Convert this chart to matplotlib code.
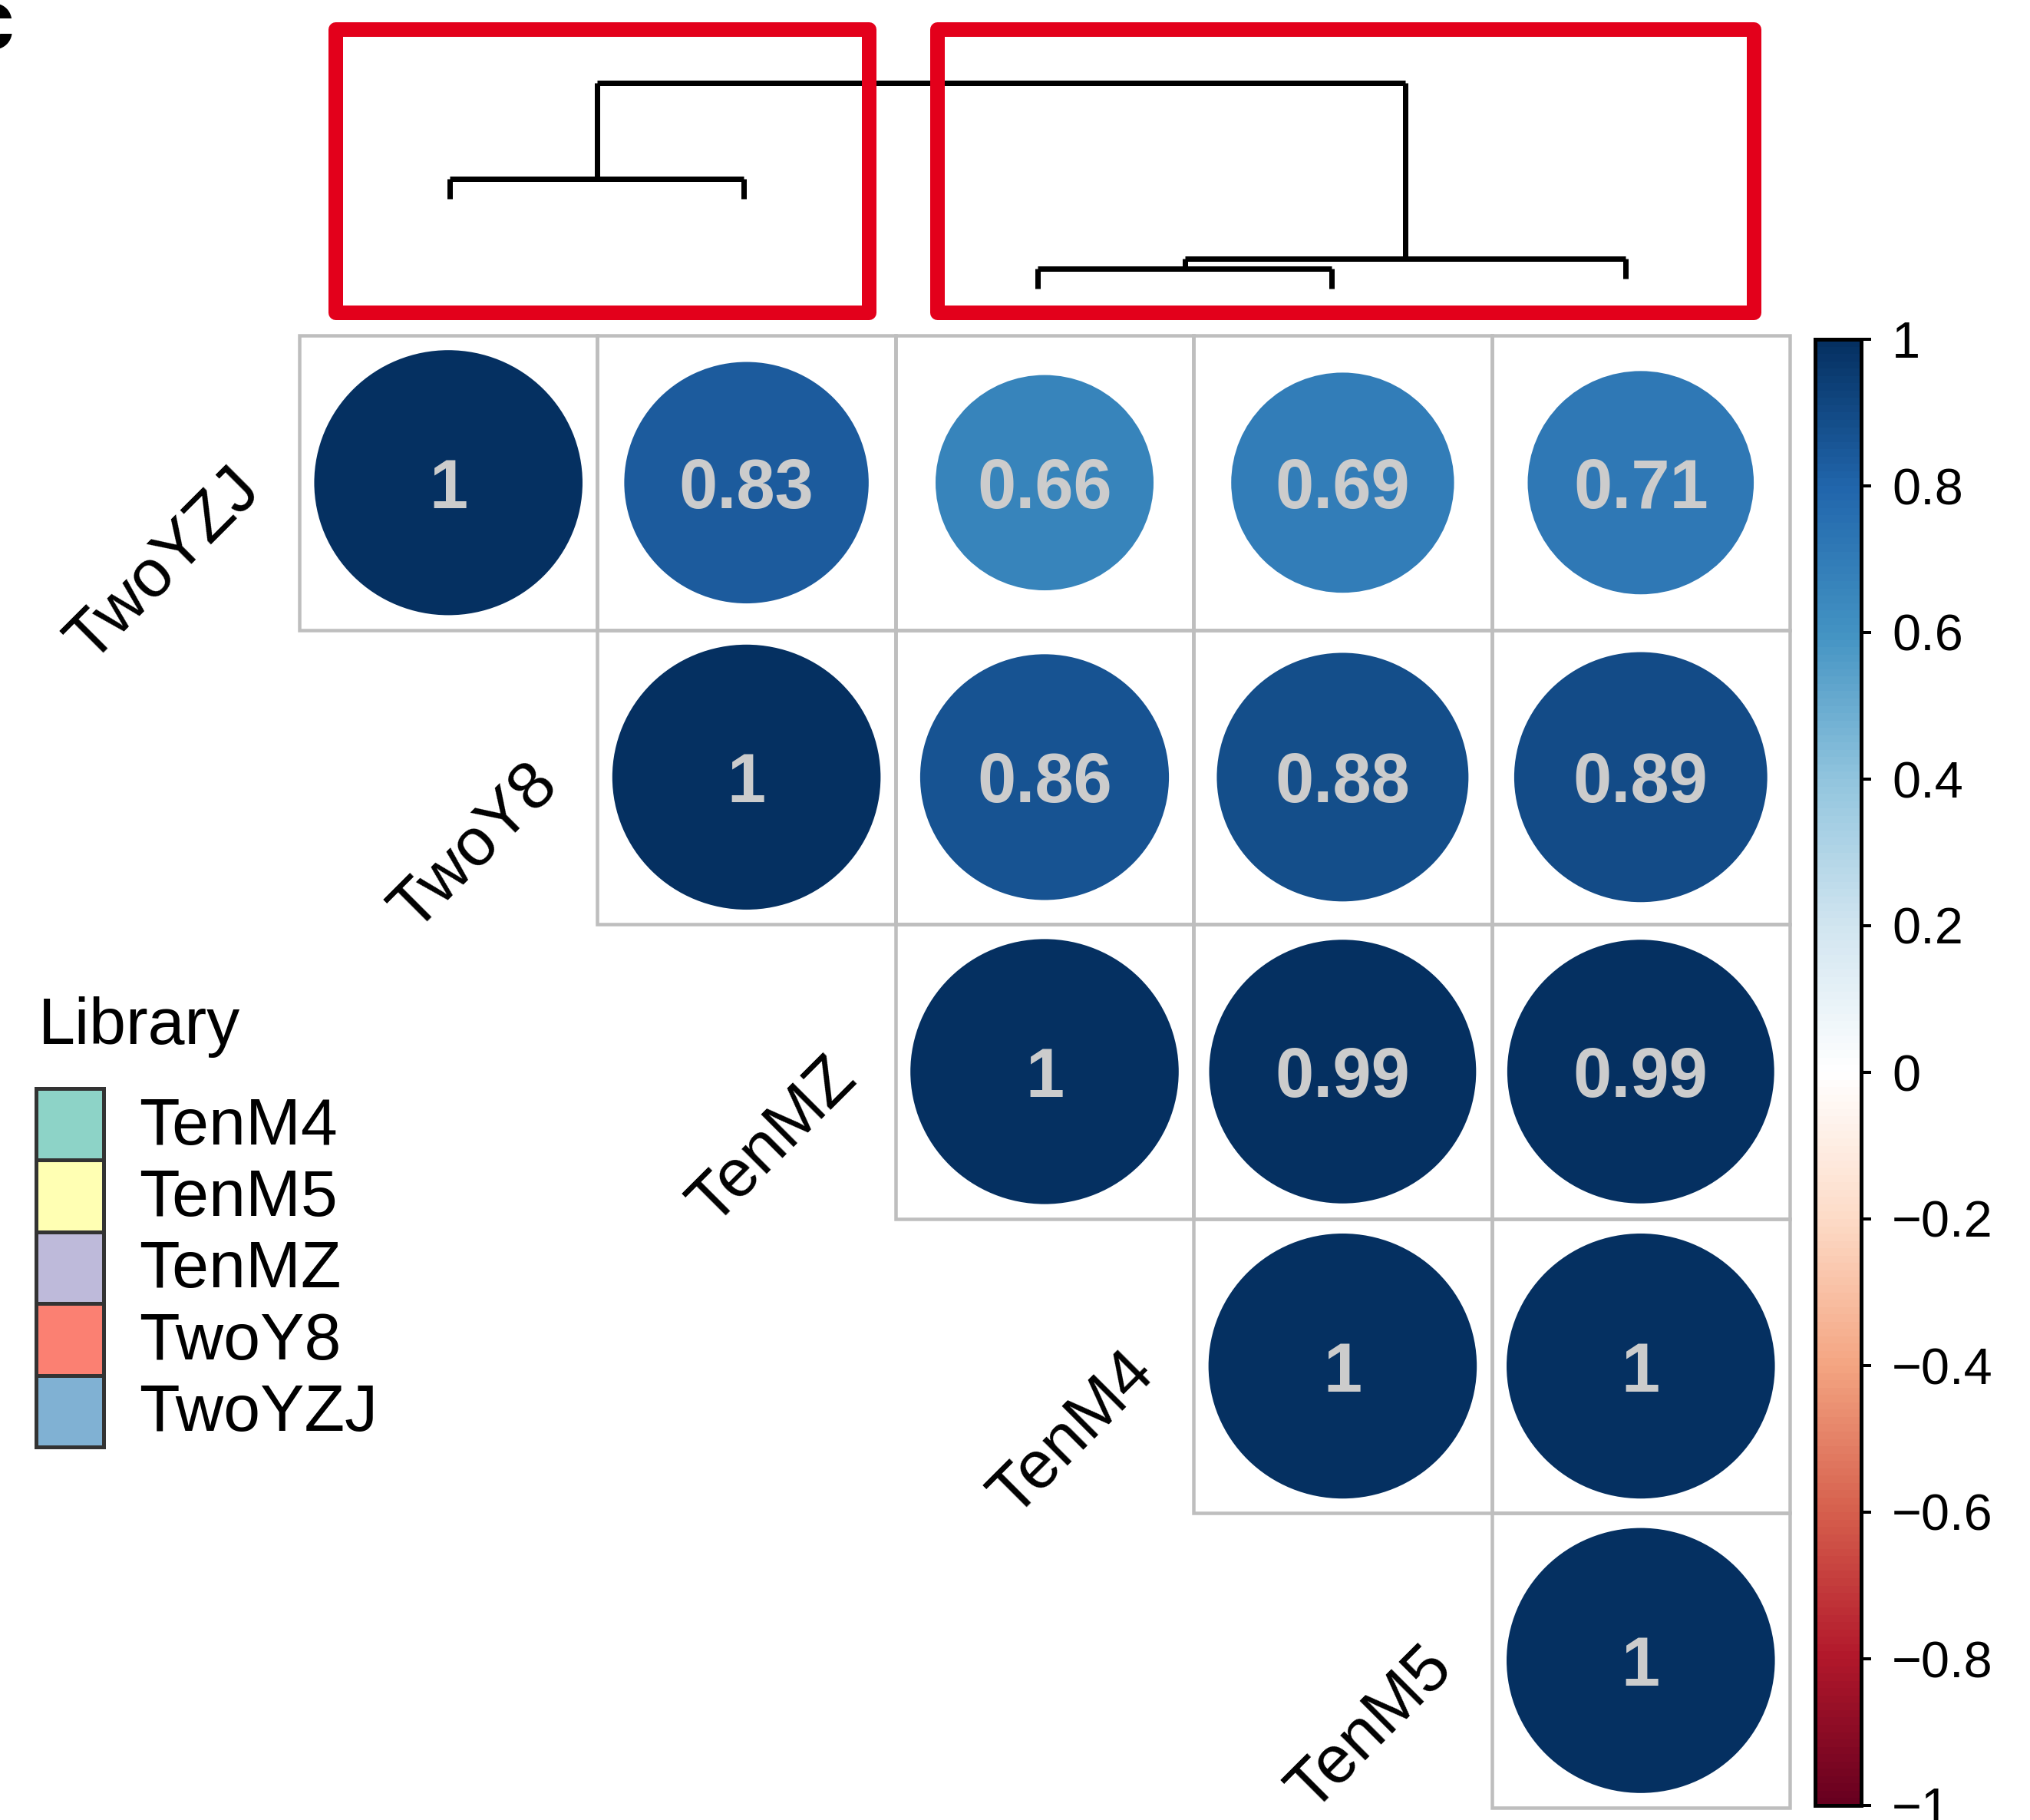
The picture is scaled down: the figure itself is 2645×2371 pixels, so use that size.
import numpy as np
import matplotlib
matplotlib.use("Agg")
import matplotlib.pyplot as plt
from matplotlib.colors import LinearSegmentedColormap, Normalize
from matplotlib.patches import Rectangle, Ellipse
import matplotlib.cm as cm

plt.rcParams['font.family'] = ['Liberation Sans', 'DejaVu Sans']

# ---- data ---------------------------------------------------------------
libraries = ['TwoYZJ', 'TwoY8', 'TenMZ', 'TenM4', 'TenM5']

# upper triangle of the Pearson correlation matrix (row-wise, None below diagonal)
corr_upper = [
    [1.00, 0.83, 0.66, 0.69, 0.71],
    [None, 1.00, 0.86, 0.88, 0.89],
    [None, None, 1.00, 0.99, 0.99],
    [None, None, None, 1.00, 1.00],
    [None, None, None, None, 1.00],
]

# hierarchical clustering of the libraries (scipy-style linkage rows:
# child a, child b, merge height); leaves 0..4 follow `libraries`
linkage = [
    [2, 3, 0.142],
    [5, 4, 0.188],
    [0, 1, 0.557],
    [7, 6, 1.000],
]
leaf_hang = 0.092

# cluster groups highlighted above the dendrogram (leaf index ranges)
highlight_groups = [(0, 1), (2, 4)]

legend_labels = ['TenM4', 'TenM5', 'TenMZ', 'TwoY8', 'TwoYZJ']
legend_colors = ['#8DD3C7', '#FFFFB3', '#BEBADA', '#FB8072', '#80B1D3']

cbar_ticks = [1, 0.8, 0.6, 0.4, 0.2, 0, -0.2, -0.4, -0.6, -0.8, -1]

rdbu = ["#67001F", "#B2182B", "#D6604D", "#F4A582", "#FDDBC7", "#FFFFFF",
        "#D1E5F0", "#92C5DE", "#4393C3", "#2166AC", "#053061"]
cmap = LinearSegmentedColormap.from_list('corr_rdbu', rdbu, N=200)
norm = Normalize(-1, 1)

# ---- figure -------------------------------------------------------------
W, H = 2645, 2371
DPI = 100
fig = plt.figure(figsize=(W / DPI, H / DPI), dpi=DPI)
PX = 72.0 / DPI  # points per pixel


def fig_rect(x0, y0, w, h):
    """Pixel box (top-left origin) -> figure fraction rect."""
    return [x0 / W, 1 - (y0 + h) / H, w / W, h / H]


# overlay in pixel units for panel letter and legend
ov = fig.add_axes([0, 0, 1, 1], zorder=0)
ov.set_xlim(0, W)
ov.set_ylim(H, 0)
ov.axis('off')

# ---- correlation grid ---------------------------------------------------
n = len(libraries)
ax = fig.add_axes(fig_rect(390, 437, 1942, 1918), zorder=2)
ax.set_xlim(0, n)
ax.set_ylim(n, 0)
ax.axis('off')

grid_col = '#BEBEBE'
for i in range(n):
    for j in range(n):
        v = corr_upper[i][j]
        if v is None:
            continue
        ax.add_patch(Rectangle((j, i), 1, 1, facecolor='none',
                               edgecolor=grid_col, lw=4.5 * PX, zorder=1,
                               clip_on=False))
        d = 0.9 * np.sqrt(abs(v))
        ax.add_patch(Ellipse((j + 0.5, i + 0.5), d, d,
                             facecolor=cmap(norm(v)), edgecolor='none',
                             zorder=2))
        txt = f"{v:.2f}".rstrip('0').rstrip('.')
        ax.text(j + 0.5, i + 0.5, txt, ha='center', va='center_baseline',
                fontsize=65, fontweight='bold', color='#CCCCCC', zorder=3)

# diagonal labels
for i, lab in enumerate(libraries):
    ax.text(i - 0.166, i + 0.5 - 0.009, lab, rotation=45,
            rotation_mode='anchor', ha='right', va='center',
            fontsize=63, color='black', clip_on=False)

# ---- dendrogram ---------------------------------------------------------
dax = fig.add_axes(fig_rect(394.5, 0, 1915, 437), zorder=1)
dax.set_xlim(-0.5, n - 0.5)
dax.set_ylim(-0.1667, 1.383)
dax.axis('off')

node_x = {k: float(k) for k in range(n)}
node_h = {}
dend_kw = dict(color='black', lw=7 * PX, solid_capstyle='butt',
               solid_joinstyle='miter')
for m, (a, b, h) in enumerate(linkage):
    a, b = int(a), int(b)
    nid = n + m
    node_x[nid] = (node_x[a] + node_x[b]) / 2
    node_h[nid] = h
    dax.plot([node_x[a], node_x[b]], [h, h], **dend_kw)
    for c in (a, b):
        bottom = node_h[c] if c in node_h else h - leaf_hang
        dax.plot([node_x[c], node_x[c]], [h, bottom], **dend_kw)

# highlight boxes around the two main clusters
box_top, box_bottom = 1.248, -0.060
box_pad = [(0.389, 0.426), (0.342, 0.436)]
for (lo, hi), (pl, pr) in zip(highlight_groups, box_pad):
    x0 = lo - pl
    x1 = hi + pr
    dax.add_patch(Rectangle((x0, box_bottom), x1 - x0, box_top - box_bottom,
                            facecolor='none', edgecolor='#E3001B',
                            lw=19 * PX, joinstyle='round', clip_on=False,
                            zorder=3))

# ---- colour bar ---------------------------------------------------------
cax = fig.add_axes(fig_rect(2365, 442, 60, 1910), zorder=2)
sm = cm.ScalarMappable(norm=norm, cmap=cmap)
cb = fig.colorbar(sm, cax=cax, orientation='vertical')
cb.outline.set_linewidth(5 * PX)
cb.outline.set_edgecolor('black')
cb.set_ticks(cbar_ticks)
cb.set_ticklabels([("\u2212" if t < 0 else "") + f"{abs(t):g}" for t in cbar_ticks])
cax.tick_params(axis='y', direction='out', length=13 * PX, width=4 * PX,
                pad=27 * PX, labelsize=48, colors='black')

# ---- legend -------------------------------------------------------------
ov.text(50, 1360, 'Library', fontsize=62, ha='left', va='baseline')
sq_top, sq_h, sq_x, sq_w = 1418, 93.4, 47, 88
for k, (lab, col) in enumerate(zip(legend_labels, legend_colors)):
    y0 = sq_top + k * sq_h
    ov.add_patch(Rectangle((sq_x, y0), sq_w, sq_h, facecolor=col,
                           edgecolor='#333333', lw=5 * PX))
    ov.text(181, y0 + sq_h / 2 + 26, lab, fontsize=62, ha='left',
            va='baseline')

# panel letter
ov.text(18, 64, 'c', fontsize=80, fontweight='bold', ha='right',
        va='baseline')

fig.savefig('out.png', dpi=DPI, facecolor='white')
